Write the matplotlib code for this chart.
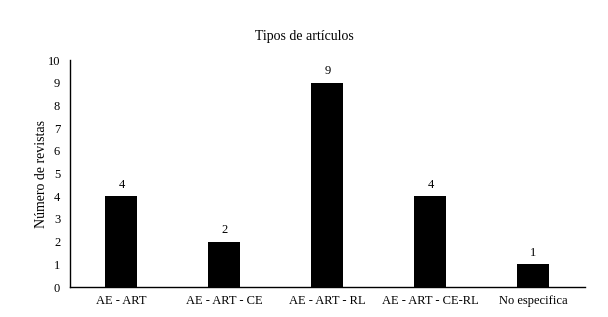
import matplotlib.pyplot as plt

# data
categorias = ["AE - ART", "AE - ART - CE", "AE - ART - RL", "AE - ART - CE-RL", "No especifica"]
revistas = [4, 2, 9, 4, 1]
yticks = list(range(0, 11))

plt.rcParams["font.family"] = ["Liberation Serif", "DejaVu Serif"]

fig = plt.figure(figsize=(6.08, 3.17), dpi=100)
ax = fig.add_axes([0.115, 0.0946, 0.847, 0.716])

bars = ax.bar(range(len(categorias)), revistas, width=0.31, color="black")
for b, v in zip(bars, revistas):
    ax.text(b.get_x() + b.get_width() / 2, v + 0.25, str(v),
            ha="center", va="bottom", fontsize=9)

ax.set_xlim(-0.5, len(categorias) - 0.5)
ax.set_ylim(0, 10)
ax.set_yticks(yticks)
ax.set_xticks(range(len(categorias)))
ax.set_xticklabels(categorias)
ax.tick_params(axis="both", length=0, labelsize=9)
ax.tick_params(axis="x", pad=6)
ax.tick_params(axis="y", pad=7)

ax.spines["top"].set_visible(False)
ax.spines["right"].set_visible(False)
ax.spines["left"].set_linewidth(1)
ax.spines["bottom"].set_linewidth(1)

ax.set_ylabel("Número de revistas", fontsize=10, labelpad=0)
fig.text(0.5, 0.875, "Tipos de artículos", ha="center", fontsize=10)

fig.savefig("out.png", dpi=100)
